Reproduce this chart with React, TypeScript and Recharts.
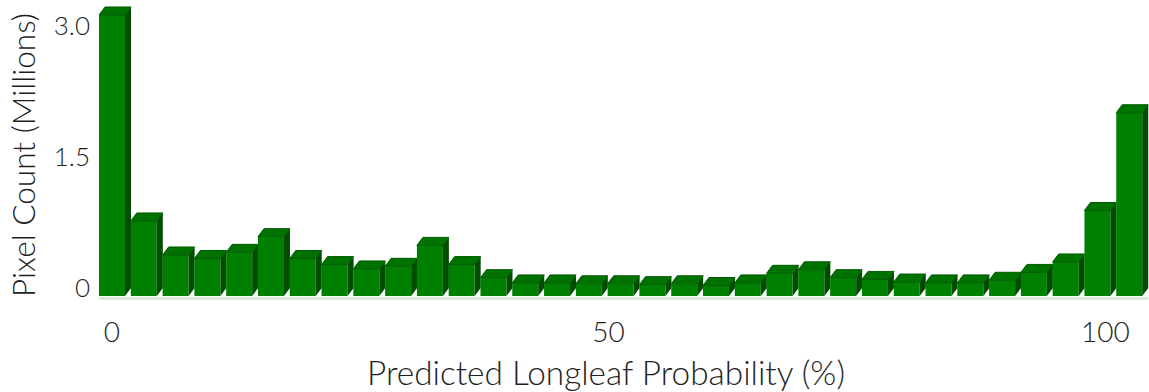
import { BarChart, Bar, XAxis, YAxis, Label } from 'recharts'

// bin centres (%) and pixel counts (millions)
const binCentres = [
  0, 3.2, 6.4, 9.6, 12.8, 16, 19.2, 22.4, 25.6, 28.8, 32, 35.2, 38.4, 41.6, 44.8, 48, 51.2,
  54.4, 57.6, 60.8, 64, 67.2, 70.4, 73.6, 76.8, 80, 83.2, 86.4, 89.6, 92.8, 96, 99.2, 102.4,
]
const pixelCounts = [
  3.22, 0.86, 0.47, 0.43, 0.5, 0.68, 0.43, 0.36, 0.31, 0.34, 0.58, 0.36, 0.21, 0.15, 0.15, 0.14, 0.14,
  0.13, 0.14, 0.12, 0.15, 0.26, 0.3, 0.21, 0.19, 0.16, 0.15, 0.15, 0.18, 0.27, 0.39, 0.98, 2.1,
]
const xTicks = [0, 50, 100]
const yTicks = [0, 1.5, 3]

const data = binCentres.map((x, i) => ({ x, count: pixelCounts[i] }))

const FONT = 'Lato, "Open Sans", sans-serif'
const TEXT = '#1e1e1e'
const DX = 6 // depth of the fake 3d bars
const DY = 8

function Bar3D(props: any) {
  const { x, y, width, height } = props
  if (height == null || height <= 0) return null
  const fy = y + DY
  const fb = y + height + DY
  const r = x + width
  return (
    <g>
      <rect x={x} y={fb + 1} width={width + DX} height={3} fill="#d6ebd6" />
      <rect x={x} y={fy} width={width} height={fb - fy} fill="#008000" />
      <polygon
        points={`${r},${fy} ${r + DX},${fy - DY} ${r + DX},${fb - DY} ${r},${fb}`}
        fill="#004c00"
      />
      <polygon
        points={`${x},${fy} ${x + DX},${fy - DY} ${r + DX},${fy - DY} ${r},${fy}`}
        fill="#007200"
        stroke="#005a00"
        strokeWidth={1}
      />
    </g>
  )
}

function YTitle() {
  const cx = 35
  const cy = 155
  return (
    <text
      x={cx}
      y={cy}
      transform={`rotate(-90, ${cx}, ${cy})`}
      textAnchor="middle"
      fontFamily={FONT}
      fontWeight={300}
      fontSize={31}
      fill={TEXT}
      textLength={284}
      lengthAdjust="spacingAndGlyphs"
    >
      Pixel Count (Millions)
    </text>
  )
}

function XTitle() {
  return (
    <text
      x={606}
      y={385}
      textAnchor="middle"
      fontFamily={FONT}
      fontWeight={300}
      fontSize={33}
      fill={TEXT}
      textLength={478}
      lengthAdjust="spacingAndGlyphs"
    >
      Predicted Longleaf Probability (%)
    </text>
  )
}

export default function App() {
  return (
    <div style={{ position: 'absolute', left: 0, top: 0, background: '#fff' }}>
      <BarChart width={1149} height={392} data={data} margin={{ top: 0, right: 0, bottom: 0, left: 0 }}>
        <XAxis
          type="number"
          dataKey="x"
          domain={[-1.3, 104.4]}
          ticks={xTicks}
          interval={0}
          height={104}
          axisLine={false}
          tickLine={false}
          tickSize={0}
          tickMargin={34}
          tick={{ fontFamily: FONT, fontWeight: 300, fontSize: 28, fill: TEXT }}
        >
          <Label content={<XTitle />} />
        </XAxis>
        <YAxis
          domain={[0, 3.3]}
          ticks={yTicks}
          interval={0}
          width={99}
          axisLine={false}
          tickLine={false}
          tickSize={0}
          tickMargin={9}
          tickFormatter={(v: number) => (v === 0 ? '0' : v.toFixed(1))}
          tick={{ fontFamily: FONT, fontWeight: 300, fontSize: 26, fill: TEXT }}
        >
          <Label content={<YTitle />} />
        </YAxis>
        <Bar dataKey="count" barSize={26} shape={<Bar3D />} isAnimationActive={false} />
      </BarChart>
    </div>
  )
}
